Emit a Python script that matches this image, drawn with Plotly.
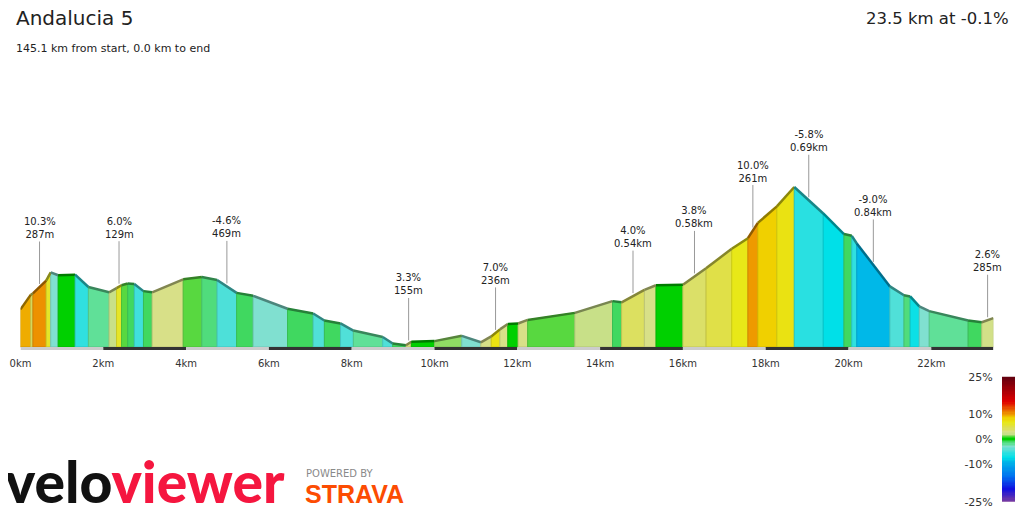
import numpy as np
import plotly.graph_objects as go
from plotly.colors import sample_colorscale, hex_to_rgb, label_rgb, unlabel_rgb

# ------- profile -------
dist_km = [0.0, 0.25, 0.30, 0.62, 0.73, 0.91, 1.32, 1.64, 2.14, 2.32, 2.44, 2.59, 2.75,
           2.97, 3.18, 3.93, 4.38, 4.75, 5.22, 5.62, 6.45, 7.07, 7.34, 7.73, 8.04, 8.75,
           8.99, 9.31, 9.44, 10.00, 10.66, 11.12, 11.37, 11.58, 11.77, 12.02, 12.25, 13.39,
           14.30, 14.52, 15.07, 15.35, 16.00, 16.56, 17.18, 17.57, 17.81, 18.27, 18.69,
           19.39, 19.89, 20.08, 20.20, 21.00, 21.34, 21.49, 21.71, 21.95, 22.89, 23.22, 23.50]
elev_m = [64, 89, 91, 113, 127, 122, 123, 102, 93, 100, 105, 108, 107, 95, 93, 115, 119,
          114, 92, 87, 65, 57, 45, 40, 28, 17, 6, 3, 9, 10, 19, 8, 18, 30, 39, 40, 46, 58,
          78, 76, 97, 105, 106, 134, 167, 185, 211, 239, 272, 227, 192, 189, 176, 103, 88,
          86, 69, 61, 45, 42, 49]
# gradient of each segment, %
grade_pct = [9.5, 4, 10.3, 6, -3, 0, -5.5, -2, 2, 6.0, 1, -1, -5, -1, 3, 1, -1.5, -4.6, -1,
             -3, -1, -4.5, -1, -4.5, -2, -4.5, -1, 3.3, 0, 1.5, -3, 3, 7.0, 3, 0, 3, 1, 2,
             -1, 4.0, 3, 0, 3.8, 5, 6.5, 10.0, 8.5, 7, -5.8, -7.5, -1, -5.5, -9.0, -4.5,
             -1.5, -7, -3, -2, -1, 2.6]

# labelled segments
label_seg = [2, 9, 17, 27, 32, 39, 42, 45, 48, 52, 59]
label_grade = [10.3, 6.0, -4.6, 3.3, 7.0, 4.0, 3.8, 10.0, -5.8, -9.0, 2.6]
label_len_m = [287, 129, 469, 155, 236, 540, 580, 261, 690, 840, 285]

tick_km = [0, 2, 4, 6, 8, 10, 12, 14, 16, 18, 20, 22]
key_ticks = [-25, -10, 0, 10, 25]

# gradient colour key
key_grades = [-25, -20, -15, -9, -7.5, -5.5, -4.5, -3, -2, -1, 0, 1, 2, 3, 4, 5, 6.5, 8.5, 10, 15, 25]
key_colours = ['#7A3CA0', '#1010E0', '#0070F0', '#00B8E8', '#00E0E8', '#30E0E0', '#50E0D8',
               '#80E0D0', '#60E098', '#40D860', '#00D000', '#58D840', '#C8E088', '#D8E088',
               '#DCE060', '#E0E048', '#E8E818', '#F0D000', '#EE9A00', '#E00000', '#600010']

cscale = [[(g + 25) / 50, label_rgb(hex_to_rgb(c))] for g, c in zip(key_grades, key_colours)]
seg_colours = sample_colorscale(cscale, [(g + 25) / 50 for g in grade_pct])


def shade(colour, k):
    r, g, b = unlabel_rgb(colour)
    return f"rgb({int(r * k)}, {int(g * k)}, {int(b * k)})"


W, H = 1024, 512
OFF = 8  # the page puts the figure 8px in from the corner


def xp(px):
    return (px - OFF) / W


def yp(py):
    return 1 - (py - OFF) / H


px_m = 1.7  # metres per pixel
y_lo, y_hi = -3 * px_m, 247 * px_m

fig = go.Figure()

# filled segments
for i, col in enumerate(seg_colours):
    x0, x1 = dist_km[i], dist_km[i + 1]
    e0, e1 = elev_m[i], elev_m[i + 1]
    fig.add_trace(go.Scatter(x=[x0, x0, x1, x1, x0], y=[0, e0, e1, 0, 0], fill='toself',
                             fillcolor=col, mode='lines',
                             line=dict(color=shade(col, 0.88), width=1),
                             hoverinfo='skip', showlegend=False))

# darker top edge
for i, col in enumerate(seg_colours):
    fig.add_trace(go.Scatter(x=dist_km[i:i + 2], y=elev_m[i:i + 2], mode='lines',
                             line=dict(color=shade(col, 0.6), width=2.5),
                             hoverinfo='skip', showlegend=False))

# colour key
key_vals = np.linspace(-25, 25, 101)
fig.add_trace(go.Heatmap(x=[0], y=key_vals, z=[[v] for v in key_vals], colorscale=cscale,
                         zmin=-25, zmax=25, showscale=False, xaxis='x2', yaxis='y2',
                         hoverinfo='skip'))

# distance bar under the axis
for i, t in enumerate(tick_km):
    fig.add_shape(type='rect', xref='x', yref='y', x0=t, x1=min(t + 2, dist_km[-1]),
                  y0=y_lo, y1=0, fillcolor='#CCCCCC' if i % 2 == 0 else '#333333',
                  line=dict(width=0), layer='above')

# segment labels
for s, g, L in zip(label_seg, label_grade, label_len_m):
    xm = (dist_km[s] + dist_km[s + 1]) / 2
    ym = (elev_m[s] + elev_m[s + 1]) / 2
    ln = f"{L}m" if L < 500 else f"{L / 1000:.2f}km"
    fig.add_annotation(x=xm, y=ym, text=f"{g:.1f}%<br>{ln}", showarrow=True, arrowhead=0,
                       arrowwidth=1, arrowcolor='#999999', ax=0, ay=-59, standoff=3,
                       font=dict(family='DejaVu Sans', size=10, color='#222222'))

# header and footer text
fig.add_annotation(xref='paper', yref='paper', x=xp(14), y=yp(18), xanchor='left',
                   yanchor='middle', showarrow=False, text='Andalucia 5',
                   font=dict(family='DejaVu Sans', size=20, color='#222222'))
fig.add_annotation(xref='paper', yref='paper', x=xp(14), y=yp(48), xanchor='left',
                   yanchor='middle', showarrow=False, text='145.1 km from start, 0.0 km to end',
                   font=dict(family='DejaVu Sans', size=11, color='#222222'))
fig.add_annotation(xref='paper', yref='paper', x=xp(1011), y=yp(18), xanchor='right',
                   yanchor='middle', showarrow=False, text='23.5 km at -0.1%',
                   font=dict(family='DejaVu Sans', size=16.5, color='#222222'))
fig.add_annotation(xref='paper', yref='paper', x=xp(3), y=yp(481), xanchor='left',
                   yanchor='middle', showarrow=False,
                   text="<span style='color:#111111'>velo</span><span style='color:#F5163F'>viewer</span>",
                   font=dict(family='Lato Black, Lato', size=57, weight=900))
fig.add_annotation(xref='paper', yref='paper', x=xp(304), y=yp(473), xanchor='left',
                   yanchor='middle', showarrow=False, text='POWERED BY',
                   font=dict(family='DejaVu Sans', size=10, color='#8A8A8A'))
fig.add_annotation(xref='paper', yref='paper', x=xp(303), y=yp(494), xanchor='left',
                   yanchor='middle', showarrow=False, text='STRAVA',
                   font=dict(family='Liberation Sans', size=25, color='#FC4C02', weight='bold'))

fig.update_layout(
    width=W, height=H, margin=dict(l=0, r=0, t=0, b=0, pad=0, autoexpand=False),
    plot_bgcolor='white', paper_bgcolor='white', hovermode=False, showlegend=False,
    xaxis=dict(domain=[xp(20.5), xp(993.4)], range=[0, 23.5], tickvals=tick_km,
               ticktext=[f"{t}km" for t in tick_km], ticks='outside', ticklen=4,
               tickcolor='rgba(0,0,0,0)', showgrid=False, zeroline=False, showline=False,
               automargin=False,
               tickfont=dict(family='DejaVu Sans', size=10, color='#333333')),
    yaxis=dict(domain=[yp(350), yp(100)], range=[y_lo, y_hi], visible=False,
               automargin=False),
    xaxis2=dict(domain=[xp(1002), xp(1015)], range=[-0.5, 0.5], anchor='y2', visible=False,
                automargin=False),
    yaxis2=dict(domain=[yp(501.7), yp(376.7)], range=[-25, 25], anchor='x2',
                side='left', tickvals=key_ticks, ticktext=[f"{v}%" for v in key_ticks],
                ticks='outside', ticklen=6, automargin=False,
                tickcolor='rgba(0,0,0,0)', showgrid=False, zeroline=False, showline=False,
                tickfont=dict(family='DejaVu Sans', size=11, color='#333333')),
)

fig.write_html("out.html")
